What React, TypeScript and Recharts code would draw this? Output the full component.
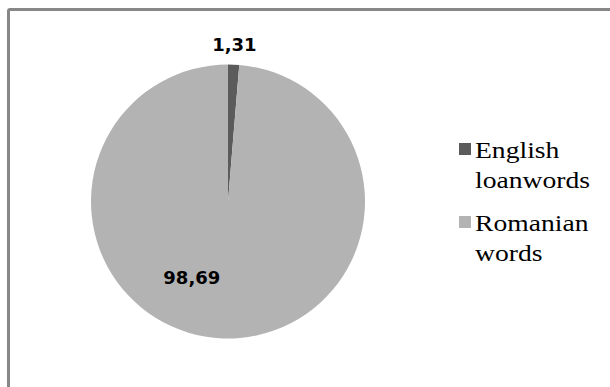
import React from 'react';
import { PieChart, Pie, Cell, Legend } from 'recharts';

// Share of words in the corpus, in percent
const categories = ['English loanwords', 'Romanian words'];
const shares = [1.31, 98.69];
const sliceColors = ['#5b5b5b', '#b3b3b3'];

const data = categories.map((name, i) => ({ name, value: shares[i] }));

const RAD = Math.PI / 180;

// small slice gets its label outside the rim, the big one sits inside
const labelPlacement = [
  { radiusOffset: 20, radiusFactor: 1, angleShift: 0 },
  { radiusOffset: 0, radiusFactor: 0.617, angleShift: -23 },
];

const formatValue = (v: number) => v.toFixed(2).replace('.', ',');

const renderLabel = (props: any) => {
  const { cx, cy, midAngle, outerRadius, index, value } = props;
  const p = labelPlacement[index];
  const r = outerRadius * p.radiusFactor + p.radiusOffset;
  const a = (midAngle + p.angleShift) * RAD;
  const x = cx + r * Math.cos(-a);
  const y = cy + r * Math.sin(-a);
  return (
    <text
      x={x}
      y={y}
      textAnchor="middle"
      dominantBaseline="central"
      fill="#000"
      fontFamily="DejaVu Sans"
      fontWeight="bold"
      fontSize={18}
    >
      {formatValue(value)}
    </text>
  );
};

const renderLegend = (props: any) => {
  const { payload } = props;
  return (
    <div>
      {(payload || []).map((entry: any, i: number) => (
        <div key={i} style={{ display: 'flex', alignItems: 'flex-start', marginBottom: 13 }}>
          <span
            style={{
              display: 'inline-block',
              flex: 'none',
              width: 12,
              height: 12,
              marginTop: 7,
              marginRight: 4,
              background: sliceColors[i],
            }}
          />
          <span
            style={{
              display: 'inline-block',
              width: 110,
              fontFamily: '"Liberation Serif"',
              fontSize: 23,
              lineHeight: '30px',
              color: '#000',
              transform: 'scaleX(1.2)',
              transformOrigin: 'left top',
            }}
          >
            {entry.value}
          </span>
        </div>
      ))}
    </div>
  );
};

export default function App() {
  return (
    <div
      style={{
        position: 'fixed',
        left: 0,
        top: 0,
        width: 610,
        height: 387,
        overflow: 'hidden',
        background: '#ffffff',
      }}
    >
      <div
        style={{
          position: 'absolute',
          left: 7,
          top: 8,
          width: 700,
          height: 500,
          border: '3px solid #878787',
          borderRadius: 3,
        }}
      />
      <PieChart
        width={610}
        height={387}
        margin={{ top: 0, right: 0, bottom: 0, left: 0 }}
        style={{ position: 'absolute', left: 0, top: 0 }}
      >
        <Pie
          data={data}
          dataKey="value"
          nameKey="name"
          cx={228}
          cy={201.5}
          outerRadius={137}
          startAngle={90}
          endAngle={-270}
          stroke="none"
          label={renderLabel}
          labelLine={false}
          isAnimationActive={false}
        >
          {data.map((d, i) => (
            <Cell key={d.name} fill={sliceColors[i]} />
          ))}
        </Pie>
        <Legend
          layout="vertical"
          content={renderLegend}
          wrapperStyle={{ left: 459, top: 136, width: 150 }}
        />
      </PieChart>
    </div>
  );
}
